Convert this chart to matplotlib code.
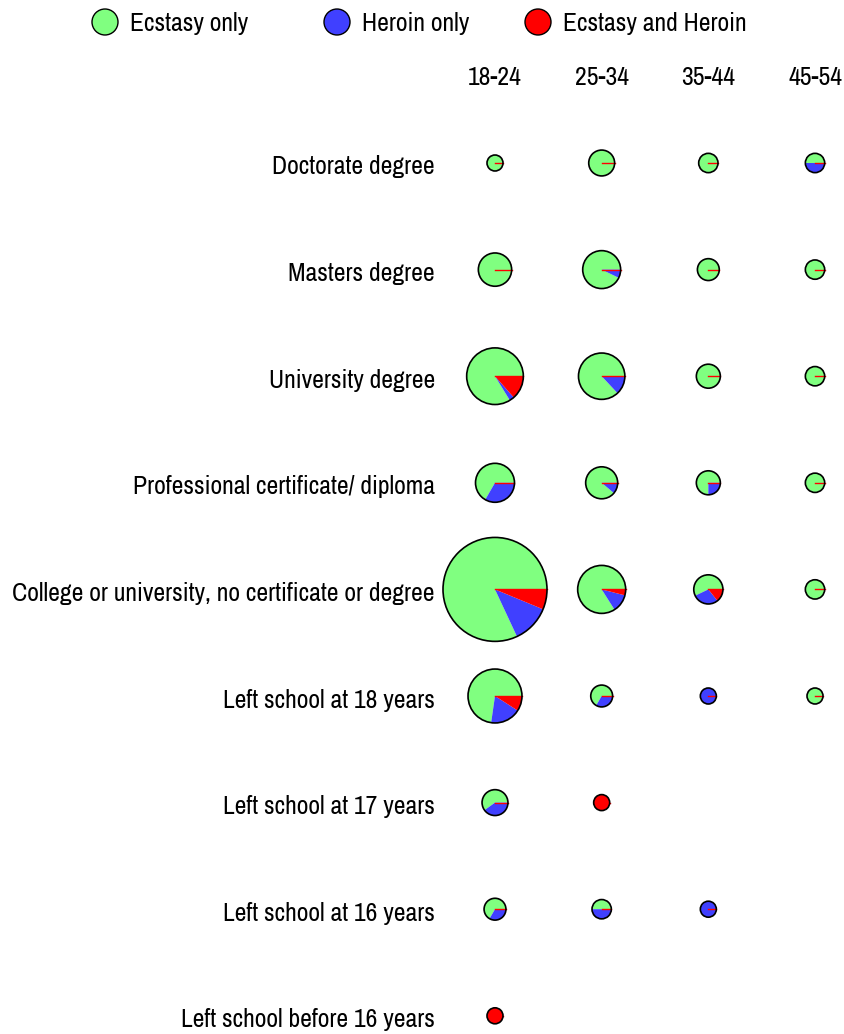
import numpy as np
import matplotlib
matplotlib.use("Agg")
import matplotlib.pyplot as plt
from matplotlib.patches import Wedge, Circle
from matplotlib.lines import Line2D
from matplotlib import font_manager

# ---- data ----
education = ["Doctorate degree", "Masters degree", "University degree",
             "Professional certificate/ diploma",
             "College or university, no certificate or degree",
             "Left school at 18 years", "Left school at 17 years",
             "Left school at 16 years", "Left school before 16 years"]
ages = ["18-24", "25-34", "35-44", "45-54"]
categories = ["Ecstasy only", "Heroin only", "Ecstasy and Heroin"]

# counts per cell, rows = education, cols = age
ecstasy_only = [
    [1, 5, 2, 1],
    [10, 13, 3, 2],
    [31, 20, 4, 2],
    [10, 8, 3, 2],
    [118, 21, 4, 2],
    [24, 2, 0, 1],
    [3, 0, 0, 0],
    [2, 1, 0, 0],
    [0, 0, 0, 0],
]
heroin_only = [
    [0, 0, 0, 1],
    [0, 1, 0, 0],
    [1, 3, 0, 0],
    [5, 1, 1, 0],
    [17, 3, 2, 0],
    [6, 1, 1, 0],
    [2, 0, 0, 0],
    [1, 1, 1, 0],
    [0, 0, 0, 0],
]
ecstasy_and_heroin = [
    [0, 0, 0, 0],
    [0, 0, 0, 0],
    [5, 0, 0, 0],
    [0, 0, 0, 0],
    [9, 1, 1, 0],
    [3, 0, 0, 0],
    [0, 1, 0, 0],
    [0, 0, 0, 0],
    [1, 0, 0, 0],
]

colors = ["#80FF80", "#4040FF", "#FF0000"]

# ---- fonts ----
avail = {f.name for f in font_manager.fontManager.ttflist}
fam = "Archivo Narrow" if "Archivo Narrow" in avail else "Liberation Sans"
plt.rcParams["font.family"] = [fam, "DejaVu Sans"]
FS = 18.5

W, H = 845, 1034
fig = plt.figure(figsize=(W / 100, H / 100), dpi=100)
ax = fig.add_axes([0, 0, 1, 1])
ax.set_axis_off()

# pixel layout: column 0 at x=495, spacing ~106.7; row 0 at y=163, spacing ~106.6
cs = 106.67
rs = 106.6
x0, y0 = 495.0, 163.0
ax.set_xlim(-x0 / cs, (W - x0) / cs)
ax.set_ylim((H - y0) / rs, -y0 / rs)

def radius(n):
    # radius in pixels -> data units
    return (4 + 4 * np.sqrt(n)) / cs

E = np.array(ecstasy_only, float)
Hh = np.array(heroin_only, float)
B = np.array(ecstasy_and_heroin, float)

for i in range(len(education)):
    for j in range(len(ages)):
        vals = [E[i, j], Hh[i, j], B[i, j]]
        tot = sum(vals)
        if tot <= 0:
            continue
        r = radius(tot)
        start = 0.0
        # y axis inverted -> counterclockwise on screen means negative data angles
        for v, c in zip(vals, colors):
            if v <= 0:
                continue
            ang = 360.0 * v / tot
            w = Wedge((j, i), r, -(start + ang), -start, facecolor=c,
                      edgecolor="none", zorder=2)
            ax.add_patch(w)
            start += ang
        ax.add_line(Line2D([j, j + r], [i, i], color="#FF0000", lw=1.0, zorder=3))
        ax.add_patch(Circle((j, i), r, facecolor="none", edgecolor="black",
                            lw=1.2, zorder=4))

# row labels
for i, lab in enumerate(education):
    ax.text(-60 / cs, i + 4 / rs, lab, ha="right", va="center", fontsize=FS,
            color="black")

# column headers
for j, lab in enumerate(ages):
    ax.text(j, -85 / rs, lab, ha="center", va="center", fontsize=FS, color="black")

# legend
leg_x = [105, 337, 538]
leg_y = 22
for k, (lab, c) in enumerate(zip(categories, colors)):
    cx = (leg_x[k] - x0) / cs
    cy = (leg_y - y0) / rs
    ax.add_patch(Circle((cx, cy), 13 / cs, facecolor=c, edgecolor="black", lw=1.0))
    ax.text(cx + 25 / cs, cy + 2 / rs, lab, ha="left", va="center", fontsize=FS,
            color="black")

fig.savefig("out.png", dpi=100, facecolor="white")
